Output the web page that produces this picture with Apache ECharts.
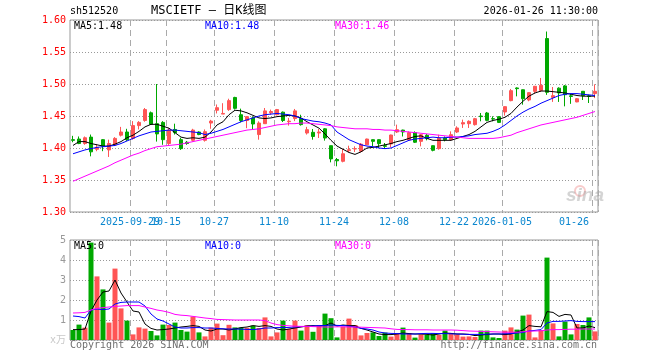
<!DOCTYPE html>
<html><head><meta charset="utf-8">
<script src="https://cdn.jsdelivr.net/npm/echarts@6/dist/echarts.min.js"></script>
<style>html,body{margin:0;padding:0;background:#fff}#c{width:660px;height:360px}</style>
</head><body><div id="c"></div>
<script>
const dates = [
'2025-09-15','2025-09-16','2025-09-17','2025-09-18','2025-09-19','2025-09-22','2025-09-23','2025-09-24','2025-09-25','2025-09-26','2025-09-29','2025-09-30',
'2025-10-09','2025-10-10','2025-10-13','2025-10-14','2025-10-15','2025-10-16','2025-10-17','2025-10-20','2025-10-21','2025-10-22','2025-10-23','2025-10-24','2025-10-27','2025-10-28','2025-10-29','2025-10-30','2025-10-31',
'2025-11-03','2025-11-04','2025-11-05','2025-11-06','2025-11-07','2025-11-10','2025-11-11','2025-11-12','2025-11-13','2025-11-14','2025-11-17','2025-11-18','2025-11-19','2025-11-20','2025-11-21','2025-11-24','2025-11-25','2025-11-26','2025-11-27','2025-11-28',
'2025-12-01','2025-12-02','2025-12-03','2025-12-04','2025-12-05','2025-12-08','2025-12-09','2025-12-10','2025-12-11','2025-12-12','2025-12-15','2025-12-16','2025-12-17','2025-12-18','2025-12-19','2025-12-22','2025-12-23','2025-12-24','2025-12-25','2025-12-26','2025-12-29','2025-12-30','2025-12-31',
'2026-01-05','2026-01-06','2026-01-07','2026-01-08','2026-01-09','2026-01-12','2026-01-13','2026-01-14','2026-01-15','2026-01-16','2026-01-19','2026-01-20','2026-01-21','2026-01-22','2026-01-23','2026-01-26'];

const tickDates  = ['2025-09-29','2025-10-15','2025-10-27','2025-11-10','2025-11-24','2025-12-08','2025-12-22','2026-01-05','2026-01-26'];
const tickLabels = ['2025-09-29','10-15','10-27','11-10','11-24','12-08','12-22','2026-01-05','01-26'];

const openP = [1.413,1.414,1.407,1.417,1.398,1.413,1.397,1.405,1.420,1.425,
1.415,1.435,1.443,1.455,1.438,1.440,1.407,1.429,1.413,1.409,
1.412,1.425,1.412,1.439,1.459,1.453,1.460,1.479,1.452,1.443,
1.447,1.421,1.438,1.455,1.452,1.456,1.441,1.446,1.446,1.4234,
1.4245,1.4234,1.430,1.4036,1.382,1.3792,1.3958,1.3985,1.395,1.405,
1.413,1.413,1.4036,1.4063,1.425,1.428,1.4125,1.424,1.4104,1.4198,
1.4036,1.399,1.4156,1.413,1.425,1.4375,1.438,1.4365,1.450,1.4547,
1.4458,1.449,1.4563,1.474,1.4938,1.491,1.475,1.4885,1.490,1.571,
1.479,1.4935,1.497,1.4815,1.472,1.4886,1.4815,1.485];
const closeP = [1.412,1.407,1.416,1.394,1.401,1.403,1.407,1.415,1.425,1.413,
1.435,1.440,1.460,1.437,1.422,1.413,1.428,1.424,1.399,1.407,
1.428,1.421,1.4255,1.442,1.463,1.454,1.474,1.462,1.443,1.449,
1.4375,1.439,1.458,1.457,1.460,1.443,1.442,1.458,1.4365,1.4286,
1.418,1.425,1.4156,1.383,1.380,1.391,1.3974,1.399,1.406,1.414,
1.4104,1.4068,1.4026,1.4203,1.4286,1.425,1.424,1.409,1.4208,1.4146,
1.3964,1.4156,1.413,1.4208,1.4313,1.4396,1.4417,1.4458,1.449,1.4432,
1.4453,1.440,1.4646,1.4896,1.4927,1.477,1.4865,1.4964,1.498,1.487,
1.4818,1.486,1.4833,1.4805,1.477,1.4818,1.4805,1.4886];
const lowP = [1.409,1.406,1.405,1.387,1.395,1.395,1.386,1.403,1.418,1.411,
1.413,1.429,1.441,1.436,1.410,1.405,1.404,1.421,1.397,1.405,
1.410,1.420,1.410,1.430,1.454,1.453,1.458,1.460,1.440,1.431,
1.4286,1.413,1.4375,1.452,1.451,1.4406,1.435,1.442,1.435,1.421,
1.413,1.4156,1.4115,1.3776,1.3714,1.3776,1.3932,1.3937,1.3932,1.4047,
1.4026,1.400,1.399,1.401,1.4234,1.418,1.4115,1.4078,1.4026,1.412,
1.3948,1.3974,1.4104,1.4115,1.4234,1.4313,1.4313,1.435,1.4417,1.4417,
1.4417,1.439,1.4505,1.473,1.4807,1.4677,1.473,1.485,1.4875,1.483,
1.472,1.472,1.4651,1.469,1.4715,1.475,1.4703,1.478];
const highP = [1.419,1.418,1.418,1.421,1.406,1.414,1.413,1.417,1.433,1.430,
1.442,1.442,1.4625,1.457,1.500,1.442,1.431,1.438,1.416,1.411,
1.430,1.426,1.429,1.444,1.468,1.470,1.477,1.480,1.4615,1.4495,
1.4495,1.4417,1.4625,1.460,1.461,1.457,1.447,1.461,1.452,1.433,
1.4297,1.4297,1.431,1.4036,1.3844,1.3984,1.4036,1.4026,1.4078,1.4146,
1.4135,1.4135,1.4078,1.4208,1.4365,1.4286,1.426,1.426,1.4219,1.4219,
1.4040,1.4208,1.418,1.426,1.4339,1.4443,1.4432,1.447,1.4547,1.4563,
1.4495,1.4495,1.4651,1.4922,1.4948,1.4915,1.487,1.497,1.5094,1.582,
1.4953,1.4948,1.4984,1.4849,1.478,1.489,1.4833,1.4995];

const ma5 = [1.404,1.410,1.410,1.407,1.405,1.403,1.403,1.406,1.410,1.416,
1.420,1.426,1.433,1.437,1.437,1.434,1.431,1.424,1.417,1.415,
1.416,1.415,1.417,1.425,1.436,1.441,1.452,1.459,1.458,1.455,
1.451,1.447,1.446,1.447,1.449,1.450,1.451,1.450,1.447,1.441,
1.436,1.431,1.422,1.412,1.403,1.398,1.393,1.390,1.394,1.400,
1.401,1.403,1.405,1.407,1.410,1.412,1.415,1.418,1.419,1.415,
1.412,1.412,1.412,1.412,1.415,1.418,1.421,1.426,1.433,1.440,
1.443,1.445,1.448,1.454,1.464,1.473,1.481,1.486,1.489,1.489,
1.488,1.487,1.486,1.484,1.482,1.481,1.481,1.481];
const ma10 = [1.391,1.394,1.397,1.399,1.401,1.402,1.403,1.404,1.407,1.411,
1.415,1.419,1.422,1.425,1.426,1.427,1.428,1.428,1.427,1.426,
1.425,1.424,1.421,1.423,1.426,1.429,1.433,1.437,1.441,1.444,
1.447,1.450,1.452,1.453,1.454,1.453,1.452,1.450,1.446,1.444,
1.442,1.441,1.439,1.436,1.425,1.419,1.413,1.409,1.405,1.403,
1.402,1.400,1.399,1.400,1.404,1.408,1.412,1.414,1.415,1.416,
1.417,1.416,1.416,1.417,1.417,1.418,1.419,1.421,1.422,1.423,
1.426,1.430,1.436,1.443,1.450,1.456,1.461,1.465,1.470,1.474,
1.478,1.482,1.484,1.485,1.485,1.484,1.483,1.482];
const ma30 = [1.348,1.352,1.356,1.360,1.364,1.368,1.372,1.377,1.381,1.385,
1.389,1.392,1.396,1.399,1.402,1.403,1.404,1.405,1.406,1.408,
1.410,1.412,1.414,1.416,1.418,1.420,1.422,1.424,1.426,1.428,
1.429,1.430,1.432,1.434,1.436,1.437,1.438,1.438,1.439,1.439,
1.438,1.437,1.436,1.435,1.433,1.432,1.431,1.430,1.430,1.430,
1.429,1.429,1.428,1.428,1.427,1.426,1.425,1.424,1.423,1.422,
1.421,1.420,1.419,1.418,1.417,1.416,1.415,1.415,1.415,1.415,
1.415,1.416,1.418,1.420,1.424,1.427,1.430,1.433,1.436,1.438,
1.440,1.442,1.444,1.446,1.448,1.451,1.454,1.457];

const volume = [0.5,0.77,0.62,4.87,3.18,2.53,0.87,3.57,1.58,0.97,
0.28,0.63,0.57,0.45,0.23,0.77,0.75,0.87,0.5,0.42,
1.17,0.38,0.18,0.62,0.82,0.24,0.76,0.63,0.62,0.61,
0.72,0.6,1.13,0.18,0.38,0.97,0.55,0.97,0.47,0.74,
0.41,0.74,1.32,1.09,0.13,0.67,1.07,0.75,0.23,0.35,
0.38,0.2,0.37,0.17,0.35,0.62,0.35,0.12,0.28,0.25,
0.33,0.25,0.47,0.33,0.28,0.17,0.18,0.15,0.47,0.47,
0.13,0.1,0.47,0.63,0.52,1.22,1.27,0.13,0.5,4.12,
0.83,0.18,0.92,0.28,0.8,0.75,1.13,0.43];
const vma5 = [0.52,0.52,0.55,1.45,2.0,2.4,2.45,3.0,2.35,1.9,
1.45,1.4,0.8,0.58,0.5,0.52,0.55,0.6,0.65,0.68,
0.72,0.68,0.5,0.45,0.55,0.55,0.5,0.55,0.62,0.65,
0.72,0.68,0.72,0.68,0.55,0.5,0.55,0.6,0.65,0.7,
0.72,0.7,0.72,0.85,0.7,0.75,0.72,0.72,0.58,0.5,
0.4,0.3,0.27,0.27,0.3,0.35,0.32,0.3,0.3,0.28,
0.25,0.3,0.35,0.33,0.3,0.3,0.28,0.22,0.25,0.28,
0.3,0.3,0.27,0.3,0.4,0.5,0.72,0.68,0.66,1.42,
1.38,1.18,1.28,1.25,0.6,0.6,0.7,0.62];
const vma10 = [1.2,1.17,1.1,1.5,1.55,1.52,1.55,1.8,1.88,1.9,
1.9,1.9,1.7,1.3,1.05,0.95,0.8,0.65,0.6,0.6,
0.62,0.62,0.6,0.6,0.58,0.56,0.55,0.55,0.54,0.53,
0.52,0.55,0.6,0.6,0.62,0.62,0.63,0.65,0.67,0.68,
0.7,0.72,0.72,0.75,0.73,0.72,0.7,0.65,0.58,0.55,
0.5,0.4,0.35,0.33,0.32,0.3,0.3,0.3,0.32,0.33,
0.33,0.32,0.32,0.31,0.3,0.29,0.28,0.28,0.28,0.29,
0.3,0.3,0.31,0.32,0.35,0.38,0.45,0.48,0.52,0.85,
0.93,0.93,0.95,0.97,0.93,0.92,0.92,0.92];
const vma30 = [1.35,1.36,1.38,1.5,1.58,1.62,1.65,1.68,1.7,1.72,
1.72,1.72,1.65,1.58,1.5,1.45,1.38,1.28,1.24,1.22,
1.18,1.14,1.1,1.07,1.03,1.02,1.01,1.0,1.0,1.0,
1.0,1.0,0.97,0.85,0.77,0.73,0.71,0.69,0.68,0.68,
0.67,0.66,0.65,0.65,0.66,0.66,0.65,0.65,0.64,0.63,
0.62,0.61,0.6,0.56,0.53,0.52,0.52,0.51,0.51,0.51,
0.5,0.5,0.5,0.5,0.49,0.47,0.45,0.44,0.43,0.42,
0.41,0.4,0.39,0.39,0.39,0.41,0.44,0.45,0.46,0.5,
0.52,0.52,0.53,0.54,0.54,0.55,0.55,0.55];

const FONT = "'DejaVu Sans Mono', 'Noto Sans CJK SC', monospace";
const UP = '#ff5555', DOWN = '#00a800';
const C5 = '#000000', C10 = '#0000ff', C30 = '#ff00ff';

const chart = echarts.init(document.getElementById('c'), null, {renderer: 'canvas'});
const isTick = (i, v) => tickDates.indexOf(v) >= 0;
// labels are split over two overlaid axes so that the overlapping pair "2025-09-29" / "10-15" both show
const firstTick = (i, v) => v === tickDates[0];
const otherTick = (i, v) => tickDates.indexOf(v) > 0;

const candleData = dates.map((d, i) => [openP[i], closeP[i], lowP[i], highP[i]]);
const volData = dates.map((d, i) => ({value: volume[i], itemStyle: {color: closeP[i] >= openP[i] ? UP : DOWN}}));

function maLine(data, color, xi, yi) {
  return {type: 'line', data: data, xAxisIndex: xi, yAxisIndex: yi, showSymbol: false, symbol: 'none',
    lineStyle: {width: 1, color: color}, itemStyle: {color: color}, silent: true, z: 3};
}
function xAx(grid, labelFn, showSplit) {
  return {type: 'category', gridIndex: grid, data: dates, boundaryGap: true, position: 'bottom', offset: 0,
    axisLine: {show: false}, axisTick: {show: false},
    axisLabel: {show: !!labelFn, interval: labelFn || isTick, showMinLabel: true, showMaxLabel: true, hideOverlap: false,
      formatter: v => tickLabels[tickDates.indexOf(v)],
      color: '#0a86cf', fontFamily: FONT, fontSize: 10, margin: 5, padding: [0, 6, 0, 0], alignMaxLabel: 'right'},
    splitLine: {show: showSplit, interval: isTick, lineStyle: {color: '#aaaaaa', type: [6, 4], width: 1}}};
}
function txt(left, top, s, color, size, extra) {
  return Object.assign({type: 'text', left: left, top: top, z: 100,
    style: {text: s, fill: color, font: (size || 10) + 'px ' + FONT}}, extra || {});
}

const option = {
  animation: false,
  backgroundColor: '#ffffff',
  grid: [
    {left: 70, top: 20, width: 528, height: 192, show: true, borderColor: '#999', borderWidth: 1},
    {left: 70, top: 240, width: 528, height: 100, show: true, borderColor: '#999', borderWidth: 1}
  ],
  xAxis: [xAx(0, otherTick, true), xAx(1, null, true), xAx(0, firstTick, false)],
  yAxis: [
    {type: 'value', gridIndex: 0, min: 1.30, max: 1.60, interval: 0.05,
     axisLine: {show: false}, axisTick: {show: false},
     axisLabel: {color: '#ff0000', fontFamily: FONT, fontSize: 10, margin: 4, formatter: v => v.toFixed(2)},
     splitLine: {show: true, lineStyle: {color: '#999', type: [1, 2]}}},
    {type: 'value', gridIndex: 1, min: 0, max: 5, interval: 1,
     axisLine: {show: false}, axisTick: {show: false},
     axisLabel: {color: '#999', fontFamily: FONT, fontSize: 10, margin: 4,
       formatter: v => v === 0 ? '{u|x万}' : String(v),
       rich: {u: {color: '#c8c8c8', fontFamily: FONT, fontSize: 10}}},
     splitLine: {show: true, lineStyle: {color: '#999', type: [1, 2]}}}
  ],
  series: [
    {type: 'candlestick', xAxisIndex: 0, yAxisIndex: 0, data: candleData, barWidth: 4,
     itemStyle: {color: UP, color0: DOWN, borderColor: UP, borderColor0: DOWN, borderWidth: 1}, silent: true},
    maLine(ma5, C5, 0, 0), maLine(ma10, C10, 0, 0), maLine(ma30, C30, 0, 0),
    {type: 'bar', xAxisIndex: 1, yAxisIndex: 1, data: volData, barWidth: 5, silent: true},
    maLine(vma5, C5, 1, 1), maLine(vma10, C10, 1, 1), maLine(vma30, C30, 1, 1)
  ],
  graphic: [
    txt(70, 6, 'sh512520', '#000', 10),
    txt(151, 5, 'MSCIETF — 日K线图', '#000', 12),
    {type: 'text', right: 62, top: 6, z: 100, style: {text: '2026-01-26 11:30:00', fill: '#000', font: '10px ' + FONT}},
    txt(74, 21, 'MA5:' + ma5[ma5.length - 1].toFixed(2), C5),
    txt(205, 21, 'MA10:' + ma10[ma10.length - 1].toFixed(2), C10),
    txt(335, 21, 'MA30:' + ma30[ma30.length - 1].toFixed(2), C30),
    txt(74, 241, 'MA5:0', C5),
    txt(205, 241, 'MA10:0', C10),
    txt(335, 241, 'MA30:0', C30),
    txt(70, 340, 'Copyright 2026 SINA.COM', '#707070', 10),
    {type: 'text', right: 63, top: 340, z: 100, style: {text: 'http://finance.sina.com.cn', fill: '#707070', font: '10px ' + FONT}},
    {type: 'circle', z: 0, shape: {cx: 580, cy: 191, r: 5}, style: {fill: 'none', stroke: 'rgba(240,140,140,0.45)', lineWidth: 2}},
    {type: 'text', left: 566, top: 186, z: 0, style: {text: 'sina', fill: 'rgba(160,160,160,0.45)', font: 'italic bold 19px "Liberation Sans"'}}
  ]
};
chart.setOption(option);
</script>
</body></html>
